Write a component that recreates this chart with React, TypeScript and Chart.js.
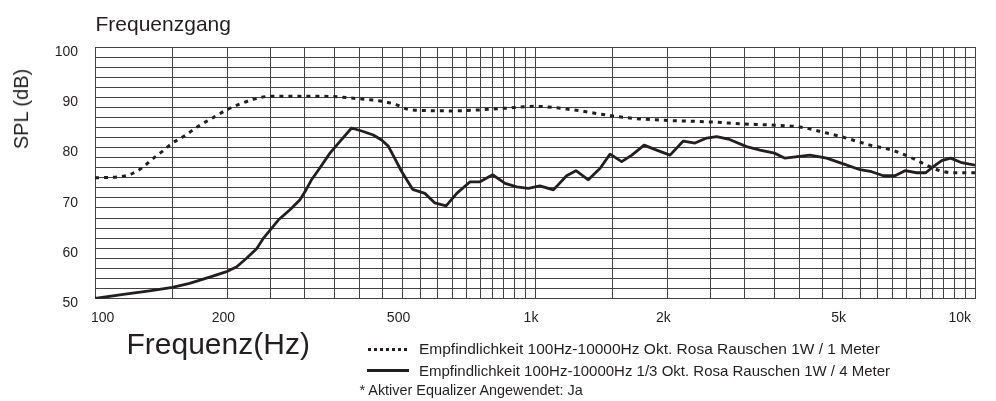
import React, { useEffect, useRef } from "react";
import { Chart, registerables } from "chart.js";

Chart.register(...registerables);

const FONT = 'Arial, "Liberation Sans", Helvetica, sans-serif';
const INK = "#231f20";
const GRID = "#444444";

const chartTitle = "Frequenzgang";
const yAxisTitle = "SPL (dB)";
const xAxisTitle = "Frequenz(Hz)";
const footnote = "* Aktiver Equalizer Angewendet: Ja";
const seriesLabels = [
  "Empfindlichkeit 100Hz-10000Hz Okt. Rosa Rauschen 1W / 1 Meter",
  "Empfindlichkeit 100Hz-10000Hz 1/3 Okt. Rosa Rauschen 1W / 4 Meter",
];

// x grid lines (Hz) and labelled ticks
const gridFreqs = [
  100, 150, 200, 250, 300, 350, 400, 450, 500, 550, 600, 650, 700, 750, 800, 850, 900, 950, 1000,
  1500, 2000, 2500, 3000, 3500, 4000, 4500, 5000, 5500, 6000, 6500, 7000, 7500, 8000, 8500, 9000, 9500, 10000,
];
const labelFreqs = [100, 200, 500, 1000, 2000, 5000, 10000];
const labelTexts = ["100", "200", "500", "1k", "2k", "5k", "10k"];
const yLabelValues = [50, 60, 70, 80, 90, 100];

// Dotted series: octave pink noise 1W / 1m
const octaveFreqs = [
  100, 116, 122, 128, 135, 142, 150, 159, 172, 186, 200, 214, 229, 250, 300, 330, 400, 450, 485, 510,
  550, 650, 750, 850, 1000, 1222, 1500, 1732, 2000, 2500, 3000, 3400, 4000, 4600, 5000, 5770, 6520,
  7115, 7770, 8330, 8920, 10000,
];
const octaveSpl = [
  74.0, 74.3, 74.9, 76.0, 77.7, 79.2, 80.9, 82.2, 84.3, 86.0, 87.6, 88.7, 89.6, 90.2, 90.2, 90.2, 89.7,
  89.2, 88.5, 87.7, 87.4, 87.3, 87.5, 87.8, 88.2, 87.5, 86.3, 85.7, 85.4, 85.1, 84.7, 84.5, 84.1, 82.9,
  82.1, 80.5, 79.4, 78.1, 76.5, 75.4, 75.0, 75.0,
];

// Solid series: 1/3 octave pink noise 1W / 4m
const thirdFreqs = [
  100, 116, 133, 150, 164, 183, 200, 210, 221, 233, 241, 250, 261, 277, 292, 300, 310, 324, 342, 360,
  383, 407, 429, 448, 464, 498, 527, 562, 592, 628, 664, 712, 750, 801, 855, 909, 966, 1026, 1101,
  1180, 1239, 1322, 1406, 1481, 1574, 1660, 1770, 1890, 2027, 2173, 2310, 2455, 2588, 2750, 3027,
  3247, 3500, 3700, 4217, 4600, 5000, 5480, 5824, 6190, 6578, 6933, 7370, 7727, 8040, 8400, 8805,
  9330, 10000,
];
const thirdSpl = [
  50.0, 50.8, 51.5, 52.2, 53.0, 54.3, 55.4, 56.3, 58.0, 59.9, 61.9, 63.6, 65.6, 67.6, 69.6, 71.2, 73.5,
  75.9, 78.9, 81.2, 83.9, 83.2, 82.5, 81.5, 80.3, 75.2, 71.7, 70.9, 69.0, 68.4, 70.9, 73.2, 73.2, 74.6,
  72.9, 72.2, 71.9, 72.4, 71.6, 74.4, 75.4, 73.6, 75.9, 78.7, 77.2, 78.5, 80.5, 79.5, 78.5, 81.3, 80.9,
  81.9, 82.2, 81.7, 80.2, 79.5, 78.9, 77.9, 78.5, 77.9, 76.8, 75.6, 75.2, 74.4, 74.4, 75.4, 75.0, 75.0,
  76.2, 77.4, 77.9, 77.0, 76.5,
];

const abs = (style: React.CSSProperties): React.CSSProperties => ({
  position: "absolute",
  whiteSpace: "nowrap",
  fontFamily: FONT,
  color: INK,
  ...style,
});

export default function App() {
  const canvasRef = useRef<HTMLCanvasElement | null>(null);

  useEffect(() => {
    const canvas = canvasRef.current;
    if (!canvas) return;
    const chart = new Chart(canvas, {
      type: "line",
      data: {
        datasets: [
          {
            label: seriesLabels[0],
            data: octaveFreqs.map((f, i) => ({ x: f, y: octaveSpl[i] })),
            borderColor: INK,
            backgroundColor: INK,
            borderWidth: 3,
            borderDash: [4, 5],
            borderCapStyle: "butt",
            pointRadius: 0,
            cubicInterpolationMode: "monotone",
            fill: false,
          },
          {
            label: seriesLabels[1],
            data: thirdFreqs.map((f, i) => ({ x: f, y: thirdSpl[i] })),
            borderColor: INK,
            backgroundColor: INK,
            borderWidth: 2.8,
            pointRadius: 0,
            tension: 0,
            borderJoinStyle: "round",
            fill: false,
          },
        ],
      },
      options: {
        animation: false,
        responsive: false,
        maintainAspectRatio: false,
        layout: { padding: { top: 47, right: 21, left: 0, bottom: 0 } },
        font: { family: FONT },
        plugins: {
          legend: { display: false },
          tooltip: { enabled: false },
          title: { display: false },
        },
        scales: {
          x: {
            type: "logarithmic",
            min: 100,
            max: 10000,
            afterBuildTicks: (scale: any) => {
              scale.ticks = gridFreqs.map((v) => ({ value: v }));
            },
            afterFit: (scale: any) => {
              scale.height = 102.5;
            },
            grid: { color: GRID, lineWidth: 1, drawTicks: false },
            border: { color: GRID, width: 1 },
            ticks: {
              autoSkip: false,
              maxRotation: 0,
              minRotation: 0,
              align: "inner",
              labelOffset: -4,
              padding: 11,
              color: INK,
              font: { family: FONT, size: 14 },
              callback: (v: any) => {
                const i = labelFreqs.indexOf(Number(v));
                return i >= 0 ? labelTexts[i] : "";
              },
            },
          },
          y: {
            type: "linear",
            min: 50,
            max: 100,
            afterFit: (scale: any) => {
              scale.width = 95;
            },
            grid: { color: GRID, lineWidth: 1, drawTicks: false },
            border: { color: GRID, width: 1 },
            ticks: {
              stepSize: 2,
              autoSkip: false,
              labelOffset: 5,
              padding: 17,
              color: INK,
              font: { family: FONT, size: 14 },
              callback: (v: any) => (yLabelValues.includes(Number(v)) ? String(v) : ""),
            },
          },
        },
      } as any,
    });
    return () => chart.destroy();
  }, []);

  return (
    <div
      style={{
        position: "absolute",
        left: 0,
        top: 0,
        width: 996,
        height: 401,
        background: "#ffffff",
        overflow: "hidden",
      }}
    >
      <canvas ref={canvasRef} width={996} height={401} style={{ width: 996, height: 401, display: "block" }} />
      <div style={abs({ left: 95.5, top: 12.7, fontSize: 21, lineHeight: "21px" })}>{chartTitle}</div>
      <div
        style={abs({
          left: 21,
          top: 109,
          fontSize: 20,
          lineHeight: "20px",
          transform: "translate(-50%, -50%) rotate(-90deg)",
        })}
      >
        {yAxisTitle}
      </div>
      <div style={abs({ left: 126.5, top: 329.1, fontSize: 30, lineHeight: "30px" })}>{xAxisTitle}</div>
      <div style={abs({ left: 368, top: 348, width: 39, height: 0, borderTop: `3px dotted ${INK}` })} />
      <div style={abs({ left: 419, top: 340.9, fontSize: 15.5, lineHeight: "15.5px" })}>{seriesLabels[0]}</div>
      <div style={abs({ left: 367, top: 368.5, width: 42, height: 0, borderTop: `3px solid ${INK}` })} />
      <div style={abs({ left: 419, top: 362.7, fontSize: 15, lineHeight: "15px" })}>{seriesLabels[1]}</div>
      <div style={abs({ left: 359.5, top: 383, fontSize: 14.4, lineHeight: "14.4px" })}>{footnote}</div>
    </div>
  );
}
